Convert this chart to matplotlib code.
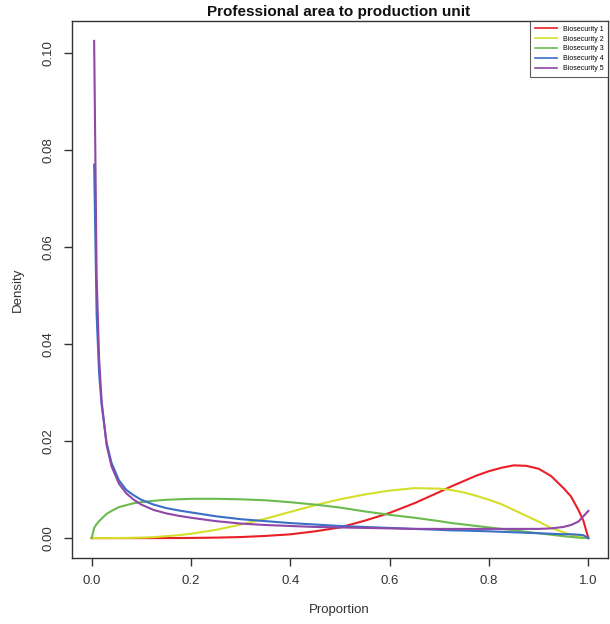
import numpy as np
import matplotlib
matplotlib.use("Agg")
import matplotlib.pyplot as plt

plt.rcParams['font.family'] = ['Liberation Sans', 'DejaVu Sans']

# ---- data ----
x = [0, 0.005, 0.01, 0.015, 0.02, 0.03, 0.04, 0.055, 0.07, 0.085, 0.1, 0.125,
     0.15, 0.175, 0.2, 0.25, 0.3, 0.35, 0.4, 0.45, 0.5, 0.55, 0.6, 0.65, 0.7,
     0.725, 0.75, 0.775, 0.8, 0.825, 0.85, 0.875, 0.9, 0.925, 0.95, 0.965, 0.98, 0.99, 1.0]

bio1 = [0, 0, 0, 0, 0, 0, 0, 0, 0, 0, 0, 0,
        0.00001, 0.00002, 0.00004, 0.0001, 0.00022, 0.00045, 0.00078, 0.0014, 0.0022, 0.0036, 0.0052, 0.0072, 0.0095,
        0.0107, 0.0118, 0.0129, 0.0138, 0.0145, 0.0150, 0.0149, 0.0143, 0.0128, 0.0103, 0.0086, 0.0058, 0.0036, 0.0]

bio2 = [0, 0, 0, 0, 0, 0, 0.00001, 0.00002, 0.00004, 0.00007, 0.0001, 0.0002,
        0.0004, 0.0006, 0.0009, 0.0017, 0.0028, 0.0040, 0.0054, 0.0068, 0.0080, 0.0090, 0.0098, 0.0103, 0.0102,
        0.0099, 0.0094, 0.0087, 0.0079, 0.0070, 0.0058, 0.0046, 0.0034, 0.0021, 0.0012, 0.0007, 0.0003, 0.0001, 0.0]

bio3 = [0, 0.0021, 0.0029, 0.0035, 0.0040, 0.0050, 0.0056, 0.0064, 0.0068, 0.0072, 0.0074, 0.0077,
        0.0079, 0.0080, 0.0081, 0.0081, 0.0080, 0.0078, 0.0074, 0.0069, 0.0063, 0.0055, 0.0048, 0.0042, 0.0035,
        0.0031, 0.0028, 0.0025, 0.0022, 0.0019, 0.0016, 0.0013, 0.0010, 0.0007, 0.0004, 0.00025, 0.0001, 0.00004, 0.0]

bio4 = [np.nan, 0.077, 0.046, 0.034, 0.0275, 0.0197, 0.0155, 0.0119, 0.0099, 0.0088, 0.0079, 0.0069,
        0.0062, 0.0057, 0.0053, 0.0045, 0.0039, 0.0035, 0.0031, 0.0028, 0.0025, 0.0023, 0.0021, 0.0019, 0.0017,
        0.0016, 0.00155, 0.00148, 0.0014, 0.0013, 0.0012, 0.0011, 0.0010, 0.0009, 0.0008, 0.0008, 0.0007, 0.0006, 0.0]

bio5 = [np.nan, 0.1025, 0.054, 0.037, 0.0283, 0.0192, 0.0148, 0.0112, 0.0092, 0.0079, 0.0069, 0.0058,
        0.0051, 0.0046, 0.0042, 0.0035, 0.0030, 0.0027, 0.0025, 0.0023, 0.0022, 0.0021, 0.0020, 0.0019, 0.0019,
        0.0019, 0.0019, 0.0019, 0.0019, 0.0019, 0.0019, 0.0019, 0.0019, 0.0020, 0.0023, 0.0027, 0.0034, 0.0045, 0.0056]

series = [bio1, bio2, bio3, bio4, bio5]
labels = ["Biosecurity 1", "Biosecurity 2", "Biosecurity 3", "Biosecurity 4", "Biosecurity 5"]
colors = ["#ea1f26", "#d4df2a", "#6cbb4e", "#3b6fc6", "#8f47a8"]

xticks = [0.0, 0.2, 0.4, 0.6, 0.8, 1.0]
yticks = [0.00, 0.02, 0.04, 0.06, 0.08, 0.10]

W, H = 610, 624
fig = plt.figure(figsize=(W / 100, H / 100), dpi=100)
ax = fig.add_axes([71.8 / W, (H - 558) / H, (608.2 - 71.8) / W, (558 - 21) / H])

for s, lab, c in zip(series, labels, colors):
    ax.plot(x, s, color=c, lw=1.5, label=lab, solid_joinstyle='round')

ymax = np.nanmax([np.nanmax(s) for s in series])
ax.set_xlim(-0.04, 1.04)
ax.set_ylim(-0.04 * ymax, 1.04 * ymax)

grey = "#333333"
ax.set_xticks(xticks)
ax.set_xticklabels([f"{t:.1f}" for t in xticks])
ax.set_yticks(yticks)
ax.set_yticklabels([f"{t:.2f}" for t in yticks], rotation=90, va='center')
ax.tick_params(axis='both', direction='out', length=5.5, width=1.0, colors=grey,
               labelsize=9.5, labelcolor=grey)
ax.tick_params(axis='x', pad=7)
ax.tick_params(axis='y', pad=7)
for sp in ax.spines.values():
    sp.set_color(grey)
    sp.set_linewidth(1.0)

fig.text(339 / W, 1 - 12 / H, "Professional area to production unit", ha='center', va='center',
         fontsize=11, fontweight='bold', color='#111111')
fig.text(339 / W, 1 - 610 / H, "Proportion", ha='center', va='center', fontsize=9.5, color=grey)
fig.text(18 / W, 1 - 290 / H, "Density", ha='center', va='center', rotation=90, fontsize=9.5, color=grey)

leg = ax.legend(loc='upper right', borderaxespad=0, fontsize=5, frameon=True, fancybox=False,
                handlelength=3.2, handletextpad=0.8, labelspacing=0.4, borderpad=0.7)
leg.get_frame().set_edgecolor(grey)
leg.get_frame().set_linewidth(0.8)
for line in leg.get_lines():
    line.set_linewidth(1.2)

fig.savefig("out.png", dpi=100)
